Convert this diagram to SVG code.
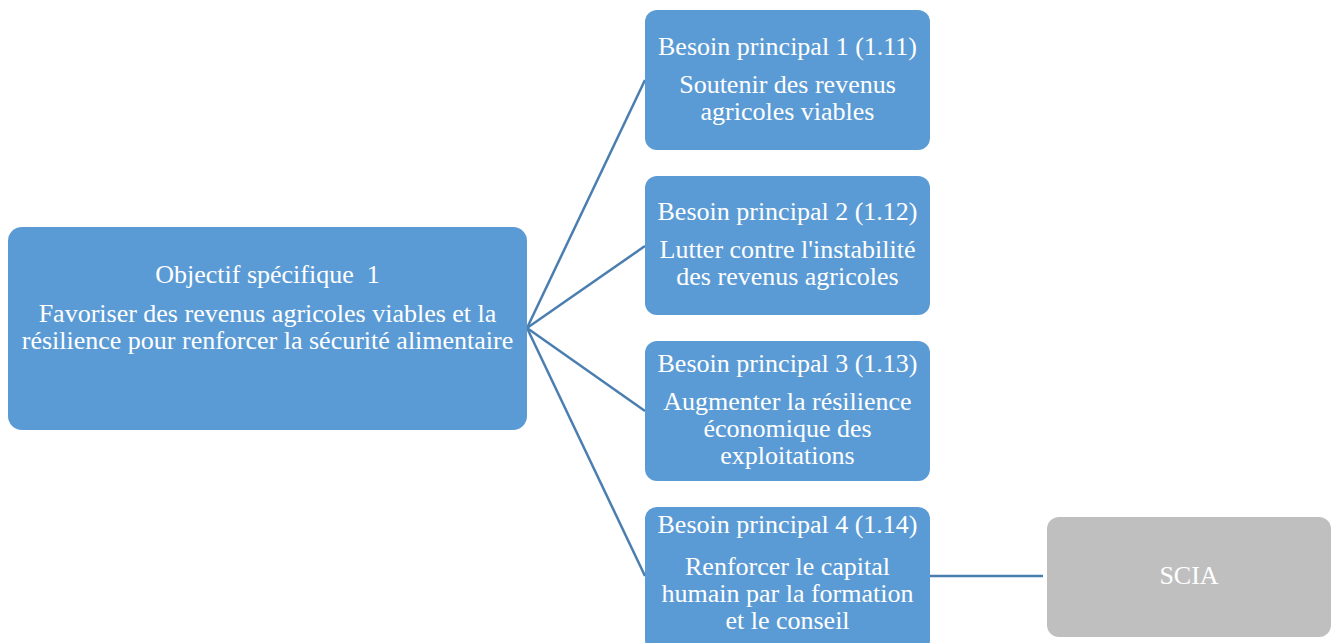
<svg xmlns="http://www.w3.org/2000/svg" width="1338" height="643" viewBox="0 0 1338 643">
<style>
.blue{fill:#5b9bd5}
.gray{fill:#bfbfbf}
.t{font-family:'Liberation Serif','DejaVu Serif',serif;font-size:26px;fill:#ffffff;text-anchor:middle;white-space:pre}
.conn{stroke:#4a7eb0;stroke-width:2.5;fill:none}
</style>
<rect width="1338" height="643" fill="#ffffff"/>
<g id="connectors">
<line class="conn" x1="527" y1="328" x2="645" y2="80"/>
<line class="conn" x1="527" y1="328" x2="645" y2="246"/>
<line class="conn" x1="527" y1="328" x2="645" y2="411"/>
<line class="conn" x1="527" y1="328" x2="645" y2="576"/>
<line class="conn" x1="930" y1="576" x2="1043" y2="576"/>
</g>
<g id="objectif">
<rect class="blue" x="8" y="227" width="519" height="203" rx="14"/>
<text class="t" x="267.5" y="283" xml:space="preserve">Objectif spécifique  1</text>
<text class="t" x="267.5" y="322">Favoriser des revenus agricoles viables et la</text>
<text class="t" x="267.5" y="349">résilience pour renforcer la sécurité alimentaire</text>
</g>
<g id="besoin1">
<rect class="blue" x="645" y="10" width="285" height="140" rx="12"/>
<text class="t" x="787.5" y="55">Besoin principal 1 (1.11)</text>
<text class="t" x="787.5" y="93">Soutenir des revenus</text>
<text class="t" x="787.5" y="120">agricoles viables</text>
</g>
<g id="besoin2">
<rect class="blue" x="645" y="176" width="285" height="139" rx="12"/>
<text class="t" x="787.5" y="220">Besoin principal 2 (1.12)</text>
<text class="t" x="787.5" y="258">Lutter contre l'instabilité</text>
<text class="t" x="787.5" y="285">des revenus agricoles</text>
</g>
<g id="besoin3">
<rect class="blue" x="645" y="341" width="285" height="140" rx="12"/>
<text class="t" x="787.5" y="372">Besoin principal 3 (1.13)</text>
<text class="t" x="787.5" y="410">Augmenter la résilience</text>
<text class="t" x="787.5" y="437">économique des</text>
<text class="t" x="787.5" y="464">exploitations</text>
</g>
<g id="besoin4">
<rect class="blue" x="645" y="507" width="285" height="145" rx="12"/>
<text class="t" x="787.5" y="533">Besoin principal 4 (1.14)</text>
<text class="t" x="787.5" y="575">Renforcer le capital</text>
<text class="t" x="787.5" y="602">humain par la formation</text>
<text class="t" x="787.5" y="629">et le conseil</text>
</g>
<g id="scia">
<rect class="gray" x="1047" y="517" width="284" height="120" rx="12"/>
<text class="t" x="1189" y="584">SCIA</text>
</g>
</svg>
